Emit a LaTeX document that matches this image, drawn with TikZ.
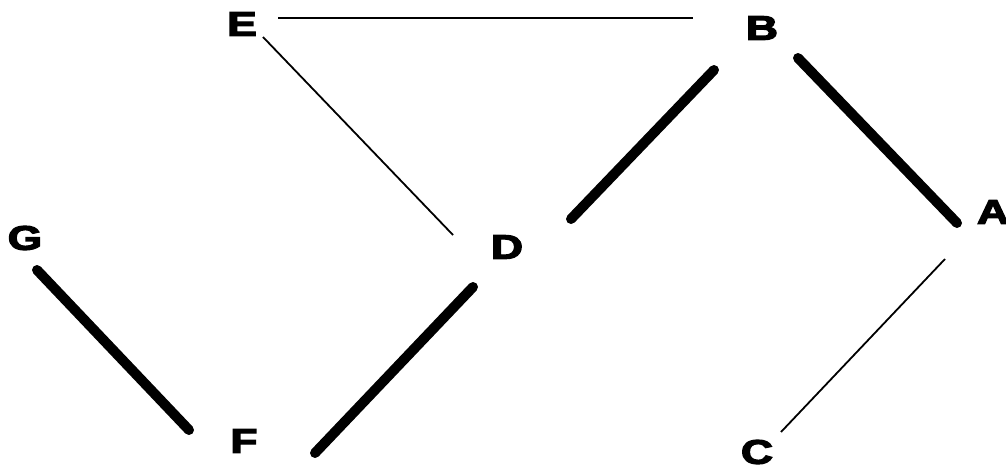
\documentclass[tikz,border=0pt]{standalone}
\usepackage{fontspec}
\setmainfont{Liberation Sans}
\newcommand{\heavytext}[1]{\special{pdf:literal direct 2 Tr 1.2 w}#1\special{pdf:literal direct 0 Tr}}
\begin{document}
\begin{tikzpicture}[x=1pt,y=-1pt,
  lbl/.style={inner sep=0pt,font=\bfseries\fontsize{34}{34}\selectfont},
  heavy/.style={line width=10pt,line cap=round},
  light/.style={line width=1.8pt}]
\useasboundingbox (0,0) rectangle (1006,466);
% labels
\node[lbl] (E) at (242,24) {\scalebox{1.3}[1]{\heavytext{E}}};
\node[lbl] (B) at (762,28) {\scalebox{1.3}[1]{\heavytext{B}}};
\node[lbl] (A) at (993,212) {\scalebox{1.3}[1]{\heavytext{A}}};
\node[lbl] (G) at (25,238) {\scalebox{1.3}[1]{\heavytext{G}}};
\node[lbl] (D) at (507,247) {\scalebox{1.3}[1]{\heavytext{D}}};
\node[lbl] (F) at (244,441) {\scalebox{1.3}[1]{\heavytext{F}}};
\node[lbl] (C) at (757,452) {\scalebox{1.3}[1]{\heavytext{C}}};
% edge end points
\coordinate (eb1) at (278,18);  \coordinate (eb2) at (693,18);
\coordinate (ed1) at (263,37);  \coordinate (ed2) at (453,235);
\coordinate (bd1) at (714,70);  \coordinate (bd2) at (571,219);
\coordinate (ba1) at (798,58);  \coordinate (ba2) at (957,223);
\coordinate (ac1) at (945,259); \coordinate (ac2) at (781,432);
\coordinate (gf1) at (37,270);  \coordinate (gf2) at (189,430);
\coordinate (df1) at (473,287); \coordinate (df2) at (315,453);
% edges
\draw[light] (eb1) -- (eb2);
\draw[light] (ed1) -- (ed2);
\draw[heavy] (bd1) -- (bd2);
\draw[heavy] (ba1) -- (ba2);
\draw[light] (ac1) -- (ac2);
\draw[heavy] (gf1) -- (gf2);
\draw[heavy] (df1) -- (df2);
\end{tikzpicture}
\end{document}
